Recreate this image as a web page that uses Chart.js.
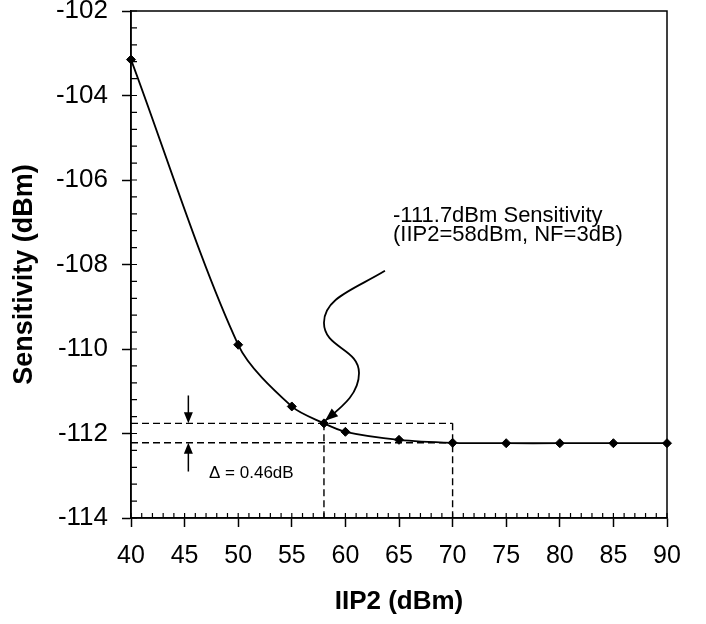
<!DOCTYPE html>
<html><head><meta charset="utf-8">
<script src="https://cdn.jsdelivr.net/npm/chart.js@4/dist/chart.umd.min.js"></script>
<style>html,body{margin:0;padding:0;background:#fff;}canvas{display:block;}</style>
</head><body>
<canvas id="c" width="706" height="624"></canvas>
<script>
// ---- data ----
const iip2Values = [40, 50, 55, 58, 60, 65, 70, 75, 80, 85, 90];
const sensitivityValues = [-103.15, -109.9, -111.36, -111.76, -111.96, -112.15, -112.22, -112.23, -112.23, -112.23, -112.23];
const xTickValues = [40, 45, 50, 55, 60, 65, 70, 75, 80, 85, 90];
const yTickValues = [-114, -112, -110, -108, -106, -104, -102];
const xMinorStep = 1;
const yMinorStep = 0.4;
const markedPoint = [58, -111.76];   // IIP2 = 58 dBm operating point
const flatPoint = [70, -112.22];     // saturated sensitivity
const deltaArrowX = 45.35;
const deltaArrowTails = [-111.1, -112.9];
const deltaText = 'Δ = 0.46dB';
const deltaTextPos = [47.28, -113.05];
const calloutLines = ['-111.7dBm Sensitivity', '(IIP2=58dBm, NF=3dB)'];
const calloutTextPos = [64.44, -106.99];
const calloutLineStep = -0.46;
const calloutPath = [[63.69,-108.15],[60.90,-108.58],[58.00,-108.79],[58.00,-109.38],
                     [58.00,-109.98],[61.27,-109.98],[61.27,-110.57],
                     [61.27,-111.09],[59.50,-111.40],[58.10,-111.70]];
const xTitle = 'IIP2 (dBm)';
const yTitle = 'Sensitivity (dBm)';

const FONT = "'Liberation Sans', Arial, sans-serif";
Chart.defaults.font.family = FONT;
Chart.defaults.color = '#000';

const curve = iip2Values.map((v, i) => ({x: v, y: sensitivityValues[i]}));
const yMin = yTickValues[0], yMax = yTickValues[yTickValues.length - 1];
const dash = {borderColor: '#000', borderWidth: 1.4, borderDash: [7, 4], pointRadius: 0, showLine: true, fill: false, tension: 0};

const decor = {
  id: 'decor',
  afterDraw(chart) {
    const {ctx, chartArea: a, scales: {x, y}} = chart;
    const X = v => x.getPixelForValue(v), Y = v => y.getPixelForValue(v);
    ctx.save();
    ctx.strokeStyle = '#000'; ctx.fillStyle = '#000';
    // frame
    ctx.lineWidth = 1.5;
    ctx.strokeRect(a.left, a.top, a.right - a.left, a.bottom - a.top);
    // inner ticks
    ctx.lineWidth = 1.2;
    ctx.beginPath();
    for (let i = 0; ; i++) {
      const v = x.min + i * xMinorStep; if (v > x.max + 1e-9) break;
      const px = X(v); ctx.moveTo(px, a.bottom); ctx.lineTo(px, a.bottom - 5);
    }
    for (let i = 0; ; i++) {
      const v = y.min + i * yMinorStep; if (v > y.max + 1e-9) break;
      const py = Y(v); ctx.moveTo(a.left, py); ctx.lineTo(a.left + 6, py);
    }
    ctx.stroke();
    function head(tx, ty, dx, dy, len, w) {
      const d = Math.hypot(dx, dy); const ux = dx / d, uy = dy / d;
      ctx.beginPath();
      ctx.moveTo(tx, ty);
      ctx.lineTo(tx - ux * len - uy * w / 2, ty - uy * len + ux * w / 2);
      ctx.lineTo(tx - ux * len + uy * w / 2, ty - uy * len - ux * w / 2);
      ctx.closePath(); ctx.fill();
    }
    // delta arrows
    ctx.lineWidth = 1.5;
    const ax = X(deltaArrowX);
    [[deltaArrowTails[0], markedPoint[1]], [deltaArrowTails[1], flatPoint[1]]].forEach(([t, h]) => {
      const ty = Y(t), hy = Y(h);
      ctx.beginPath(); ctx.moveTo(ax, ty); ctx.lineTo(ax, hy - Math.sign(hy - ty) * 6); ctx.stroke();
      head(ax, hy, 0, hy - ty, 11, 9);
    });
    // callout S-curve
    const P = calloutPath.map(([u, v]) => [X(u), Y(v)]);
    ctx.lineWidth = 1.8;
    ctx.beginPath();
    ctx.moveTo(P[0][0], P[0][1]);
    for (let i = 1; i + 2 < P.length; i += 3) ctx.bezierCurveTo(P[i][0], P[i][1], P[i+1][0], P[i+1][1], P[i+2][0], P[i+2][1]);
    ctx.stroke();
    const n = P.length - 1;
    head(P[n][0], P[n][1], P[n][0] - P[n-1][0], P[n][1] - P[n-1][1], 13, 10);
    // texts
    ctx.textAlign = 'left'; ctx.textBaseline = 'alphabetic';
    ctx.font = '22px ' + FONT;
    calloutLines.forEach((s, i) => ctx.fillText(s, X(calloutTextPos[0]), Y(calloutTextPos[1] + i * calloutLineStep)));
    ctx.font = '17px ' + FONT;
    ctx.fillText(deltaText, X(deltaTextPos[0]), Y(deltaTextPos[1]));
    // y title
    ctx.font = 'bold 27px ' + FONT;
    ctx.textAlign = 'center'; ctx.textBaseline = 'middle';
    ctx.translate(25, (a.top + a.bottom) / 2 + 10);
    ctx.rotate(-Math.PI / 2);
    ctx.fillText(yTitle, 0, 0);
    ctx.restore();
  }
};

new Chart(document.getElementById('c'), {
  type: 'scatter',
  data: {
    datasets: [
      {data: curve, showLine: true, borderColor: '#000', borderWidth: 1.8, tension: 0.3,
       pointStyle: 'rectRot', pointRadius: 4.5, pointBackgroundColor: '#000', pointBorderColor: '#000', pointBorderWidth: 1, clip: false},
      Object.assign({data: [{x: xTickValues[0], y: markedPoint[1]}, {x: flatPoint[0], y: markedPoint[1]}]}, dash),
      Object.assign({data: [{x: xTickValues[0], y: flatPoint[1]}, {x: flatPoint[0], y: flatPoint[1]}]}, dash),
      Object.assign({data: [{x: markedPoint[0], y: markedPoint[1]}, {x: markedPoint[0], y: yMin}]}, dash),
      Object.assign({data: [{x: flatPoint[0], y: markedPoint[1]}, {x: flatPoint[0], y: yMin}]}, dash)
    ]
  },
  options: {
    responsive: false, animation: false, devicePixelRatio: 1,
    events: [],
    layout: {padding: {left: 0, right: 39, top: 11, bottom: 0}},
    plugins: {legend: {display: false}, tooltip: {enabled: false}},
    scales: {
      x: {
        type: 'linear', min: xTickValues[0], max: xTickValues[xTickValues.length - 1],
        afterBuildTicks: s => { s.ticks = xTickValues.map(v => ({value: v})); },
        afterFit: s => { s.height = 106; s.paddingLeft = 0; s.paddingRight = 0; },
        grid: {drawOnChartArea: false, tickLength: 9, tickWidth: 1.5, tickColor: '#000'},
        border: {color: '#000', width: 1.5},
        ticks: {font: {size: 25}, padding: 14, maxRotation: 0, autoSkip: false},
        title: {display: true, text: xTitle, font: {size: 26, weight: 'bold'}, padding: {top: 0, bottom: 7}}
      },
      y: {
        type: 'linear', min: yMin, max: yMax,
        afterBuildTicks: s => { s.ticks = yTickValues.map(v => ({value: v})); },
        afterFit: s => { s.width = 131; s.paddingTop = 0; s.paddingBottom = 0; },
        grid: {drawOnChartArea: false, tickLength: 9, tickWidth: 1.5, tickColor: '#000'},
        border: {color: '#000', width: 1.5},
        ticks: {font: {size: 26}, padding: 14, autoSkip: false}
      }
    }
  },
  plugins: [decor]
});
</script>
</body></html>
